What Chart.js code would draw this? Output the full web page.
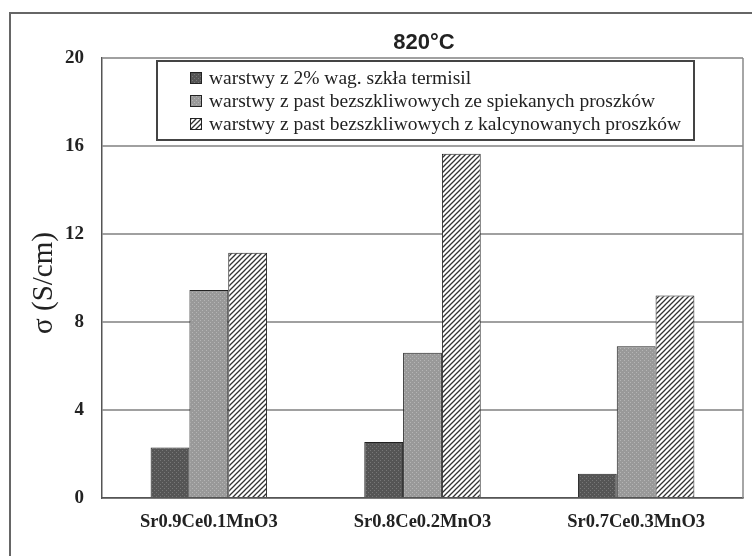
<!DOCTYPE html>
<html>
<head>
<meta charset="utf-8">
<script src="https://cdn.jsdelivr.net/npm/chart.js@4.4.0/dist/chart.umd.min.js"></script>
<style>
  html, body { margin: 0; padding: 0; background: #fff; }
  canvas { display: block; }
</style>
</head>
<body>
<canvas id="chart" width="752" height="556"></canvas>
<script>
const categories = ["Sr0.9Ce0.1MnO3", "Sr0.8Ce0.2MnO3", "Sr0.7Ce0.3MnO3"];
const seriesNames = [
  "warstwy z 2% wag. szkła termisil",
  "warstwy z past bezszkliwowych ze spiekanych proszków",
  "warstwy z past bezszkliwowych z kalcynowanych proszków"
];
const glassValues = [2.3, 2.55, 1.1];
const sinteredValues = [9.45, 6.6, 6.9];
const calcinedValues = [11.15, 15.65, 9.2];
const yTicks = [0, 4, 8, 12, 16, 20];
const chartTitle = "820°C";
const yTitle = "σ (S/cm)";

const canvas = document.getElementById("chart");
const ctx = canvas.getContext("2d");

function dotPattern(bg, dot) {
  const c = document.createElement("canvas");
  c.width = 4;
  c.height = 4;
  const g = c.getContext("2d");
  g.fillStyle = bg;
  g.fillRect(0, 0, 4, 4);
  g.fillStyle = dot;
  g.fillRect(0, 0, 1, 1);
  g.fillRect(2, 2, 1, 1);
  return ctx.createPattern(c, "repeat");
}

function hatchPattern() {
  const s = 5;
  const c = document.createElement("canvas");
  c.width = s;
  c.height = s;
  const g = c.getContext("2d");
  g.fillStyle = "#fff";
  g.fillRect(0, 0, s, s);
  g.strokeStyle = "#333";
  g.lineWidth = 1.3;
  g.beginPath();
  g.moveTo(-1, s + 1); g.lineTo(s + 1, -1);
  g.moveTo(-1, 1); g.lineTo(1, -1);
  g.moveTo(s - 1, s + 1); g.lineTo(s + 1, s - 1);
  g.stroke();
  return ctx.createPattern(c, "repeat");
}

const fills = [dotPattern("#555", "#777"), dotPattern("#999", "#b5b5b5"), hatchPattern()];

const decor = {
  id: "decor",
  beforeDraw(chart) {
    const c = chart.ctx;
    c.save();
    c.fillStyle = "#fff";
    c.fillRect(0, 0, chart.width, chart.height);
    c.strokeStyle = "#666";
    c.lineWidth = 2;
    c.strokeRect(10, 13, chart.width + 20, chart.height + 20);
    c.restore();
  },
  afterDraw(chart) {
    const c = chart.ctx;
    const a = chart.chartArea;
    c.save();
    // right border of plot
    c.strokeStyle = "#888";
    c.lineWidth = 1.5;
    c.beginPath();
    c.moveTo(a.right, a.top);
    c.lineTo(a.right, a.bottom);
    c.stroke();

    // title
    c.fillStyle = "#222";
    c.font = "bold 22px 'Liberation Sans', Arial, sans-serif";
    c.textAlign = "center";
    c.textBaseline = "middle";
    c.fillText(chartTitle, 424, 43);

    // y title
    c.save();
    c.translate(44, 283);
    c.rotate(-Math.PI / 2);
    c.font = "29px 'Liberation Serif', 'Times New Roman', serif";
    c.fillText(yTitle, 0, 0);
    c.restore();

    // legend box
    const bx = 157, by = 61, bw = 537, bh = 79;
    c.fillStyle = "#fff";
    c.fillRect(bx, by, bw, bh);
    c.strokeStyle = "#444";
    c.lineWidth = 2;
    c.strokeRect(bx, by, bw, bh);
    c.font = "19.5px 'Liberation Serif', 'Times New Roman', serif";
    c.textAlign = "left";
    chart.data.datasets.forEach((ds, i) => {
      const cy = 78 + i * 23;
      c.fillStyle = ds.backgroundColor;
      c.fillRect(190, cy - 6, 12, 12);
      c.strokeStyle = "#222";
      c.lineWidth = 1;
      c.strokeRect(190.5, cy - 5.5, 11, 11);
      c.fillStyle = "#222";
      c.fillText(ds.label, 209, cy + 1);
    });
    c.restore();
  }
};

const datasets = [glassValues, sinteredValues, calcinedValues].map((vals, i) => ({
  label: seriesNames[i],
  data: vals,
  backgroundColor: fills[i],
  borderColor: "#222",
  borderWidth: 1,
  categoryPercentage: 0.545,
  barPercentage: 1
}));

new Chart(canvas, {
  type: "bar",
  data: { labels: categories, datasets: datasets },
  plugins: [decor],
  options: {
    responsive: false,
    animation: false,
    layout: { padding: { left: 0, top: 58, right: 9, bottom: 0 } },
    plugins: {
      legend: { display: false },
      title: { display: false },
      tooltip: { enabled: false }
    },
    scales: {
      x: {
        grid: { display: false, drawTicks: false },
        border: { color: "#555", width: 1.5 },
        ticks: {
          color: "#222",
          padding: 13,
          maxRotation: 0,
          font: { family: "'Liberation Serif', 'Times New Roman', serif", size: 18.5, weight: "bold" }
        },
        afterFit(scale) { scale.height = 58; }
      },
      y: {
        min: 0,
        max: 20,
        afterBuildTicks(scale) { scale.ticks = yTicks.map(v => ({ value: v })); },
        grid: { color: "#a0a0a0", lineWidth: 2, drawTicks: false },
        border: { color: "#555", width: 1.5 },
        ticks: {
          color: "#222",
          padding: 18,
          font: { family: "'Liberation Serif', 'Times New Roman', serif", size: 19, weight: "bold" }
        },
        afterFit(scale) { scale.width = 102; }
      }
    }
  }
});
</script>
</body>
</html>
